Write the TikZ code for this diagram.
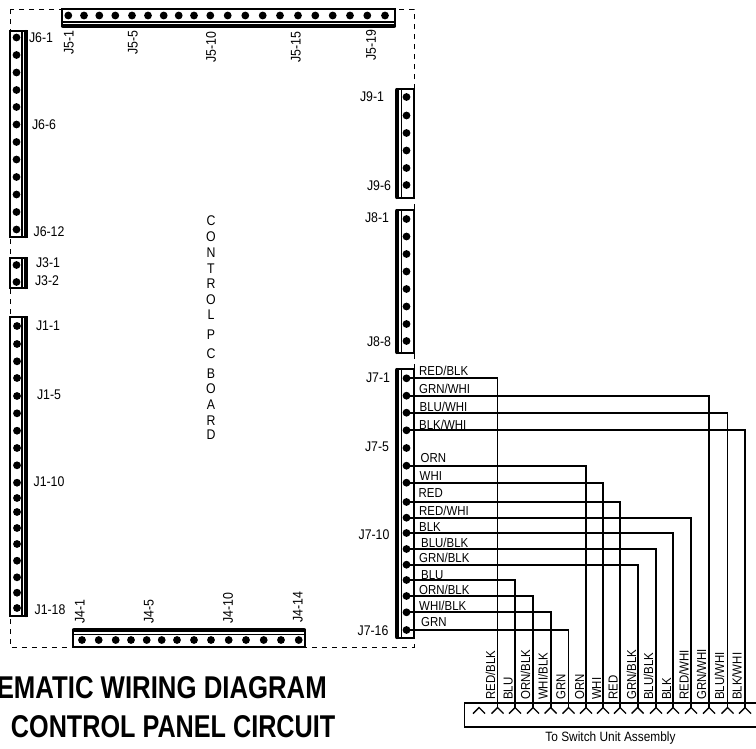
\documentclass[tikz,border=0pt]{standalone}
\usepackage{fontspec}
\setmainfont[FakeStretch=0.88]{Liberation Sans}
\newfontfamily\titlefont[FakeStretch=0.8]{Liberation Sans Bold}
\begin{document}
\begin{tikzpicture}[x=1pt,y=-1pt,
  conn/.style={draw=black,line width=1.6pt,fill=white},
  bar/.style={line width=4.2pt,line cap=round},
  inner line/.style={line width=1.6pt},
  pin/.style={circle,fill=black,inner sep=0pt,minimum size=7.8pt},
  lbl/.style={inner sep=0pt,font=\fontsize{14}{14}\selectfont},
  vlbl/.style={inner sep=0pt,font=\fontsize{14}{14}\selectfont,rotate=90},
  wlbl/.style={inner sep=0pt,anchor=base west,font=\fontsize{13}{13}\selectfont},
  wvl/.style={inner sep=0pt,rotate=90,anchor=base west,font=\fontsize{13}{13}\selectfont},
  wire/.style={line width=1.8pt,line join=miter},
  title/.style={inner sep=0pt,anchor=base east,font=\titlefont\fontsize{31.5}{31.5}\selectfont}]
\useasboundingbox (0,0) rectangle (756,748);
% board outline
\draw[line width=0.9pt,dash pattern=on 5pt off 5pt] (10,9) rectangle (414,647);
% connector housings
\draw[conn] (62,9) rectangle (395,26);
\draw[inner line] (62,22) -- (395,22);
\draw[bar] (63,26) -- (394,26);
\draw[conn] (10,31) rectangle (27,237);
\draw[inner line] (22,31) -- (22,237);
\draw[bar] (26,32) -- (26,236);
\draw[conn] (10,258) rectangle (27,288);
\draw[inner line] (22,258) -- (22,288);
\draw[bar] (26,259) -- (26,287);
\draw[conn] (10,317) rectangle (27,616);
\draw[inner line] (22,317) -- (22,616);
\draw[bar] (26,318) -- (26,615);
\draw[conn] (73,630) rectangle (305,647);
\draw[inner line] (73,634.5) -- (305,634.5);
\draw[bar] (74,630) -- (304,630);
\draw[conn] (397,89) rectangle (414,198);
\draw[inner line] (401.5,89) -- (401.5,198);
\draw[bar] (397,90) -- (397,197);
\draw[conn] (397,210) rectangle (414,353);
\draw[inner line] (401.5,210) -- (401.5,353);
\draw[bar] (397,211) -- (397,352);
\draw[conn] (397,369) rectangle (414,638);
\draw[inner line] (401.5,369) -- (401.5,638);
\draw[bar] (397,370) -- (397,637);
% pins
\foreach \x [count=\i] in {68.3,84,99.3,115.3,132,148,163.7,178.7,194,210.3,227.7,245.3,262.7,280,298,315.3,332.7,350,367.3,385}
  \node[pin] (pfive\i) at (\x,15.5) {};
\foreach \y [count=\i] in {37.5,55,72.5,90,107,124.5,142,159.5,177,194.5,212,229.5}
  \node[pin] (psix\i) at (16.5,\y) {};
\node[pin] (pthreea) at (16.5,265) {};
\node[pin] (pthreeb) at (16.5,282) {};
\foreach \y [count=\i] in {326,344,361.3,378,396,413.3,430.7,448,465.3,482.7,498,512,528,544,560.7,577.3,592.7,608}
  \node[pin] (pone\i) at (17,\y) {};
\foreach \x [count=\i] in {82,98.7,115.7,131,146.7,161.7,177,194,211,228.7,246,263.7,281,298.7}
  \node[pin] (pfour\i) at (\x,640) {};
\foreach \y [count=\i] in {97,115.5,133,150.5,168,185}
  \node[pin] (pnine\i) at (406.5,\y) {};
\foreach \y [count=\i] in {219,236.5,254,271.5,289,306.5,324,341}
  \node[pin] (peight\i) at (406.5,\y) {};
\foreach \y [count=\i] in {378.3,395.7,412.7,430.3,448,465.7,482.7,502,517.7,533,549,564.7,580,596,612.3,630}
  \node[pin] (pseven\i) at (406.5,\y) {};
% switch unit connector
\draw[line width=1.6pt] (756,703) -- (464.5,703) -- (464.5,727) -- (756,727);
\foreach \x [count=\i] in {479,497.5,515,533,550.7,568.5,586,603,620,637.7,656,673,691,709,727.5,745}{
  \coordinate (s\i) at (\x,707.5);
  \draw[line width=1.4pt] (\x-6,713.5) -- (s\i) -- (\x+6,713.5);
}
% wires
\foreach \p/\s in {1/2,2/14,3/15,4/16,6/7,7/8,8/9,9/13,10/12,11/11,12/10,13/3,14/4,15/5,16/6}
  \draw[wire] (pseven\p.center) -| (s\s);
% J7 wire labels
\foreach \x/\y/\t in {419/375.7/{RED/BLK},419/393.3/{GRN/WHI},419.5/411.5/{BLU/WHI},419/429/{BLK/WHI},420.5/462/{ORN},419.5/480/{WHI},418.5/497.7/{RED},419/515/{RED/WHI},419/531/{BLK},421/547.7/{BLU/BLK},419/562.7/{GRN/BLK},421/579/{BLU},419/594/{ORN/BLK},419/610.7/{WHI/BLK},421/626.7/{GRN}}
  \node[wlbl] at (\x,\y) {\t};
% vertical wire labels
\foreach \x/\t in {495/{RED/BLK},512.7/{BLU},530/{ORN/BLK},547.7/{WHI/BLK},565.3/{GRN},584/{ORN},601/{WHI},617.7/{RED},636/{GRN/BLK},653/{BLU/BLK},671/{BLK},688.7/{RED/WHI},706/{GRN/WHI},724/{BLU/WHI},741.7/{BLK/WHI}}
  \node[wvl] at (\x,700) {\t};
% pin labels
\foreach \x/\y/\t in {41/38/J6-1,44/125/J6-6,49/232/J6-12,48/263/J3-1,47/281/J3-2,48/326/J1-1,49/395/J1-5,49/482/J1-10,50/610/J1-18,372/97/J9-1,379/186/J9-6,377/218/J8-1,379/342/J8-8,378/378/J7-1,377/447/J7-5,374/535/J7-10,373/631/J7-16}
  \node[lbl] at (\x,\y) {\t};
\foreach \x/\y/\t in {69/43/J5-1,133/43/J5-5,211/47/J5-10,296/47/J5-15,371/45/J5-19,80/612/J4-1,149/612/J4-5,228/608/J4-10,298/607/J4-14}
  \node[vlbl] at (\x,\y) {\t};
% board name
\foreach \y/\t in {221/C,236.7/O,252.7/N,268.3/T,283.3/R,300/O,315/L,334.3/P,353.3/C,373.3/B,388.3/O,405/A,420.7/R,435/D}
  \node[lbl] at (211,\y) {\t};
\node[inner sep=0pt,font=\fontsize{13.5}{13.5}\selectfont] at (610.5,738) {To Switch Unit Assembly};
\node[title,xscale=1.022] at (327,698) {EMATIC WIRING DIAGRAM};
\node[title] at (335.5,737) {CONTROL PANEL CIRCUIT};
\end{tikzpicture}
\end{document}
